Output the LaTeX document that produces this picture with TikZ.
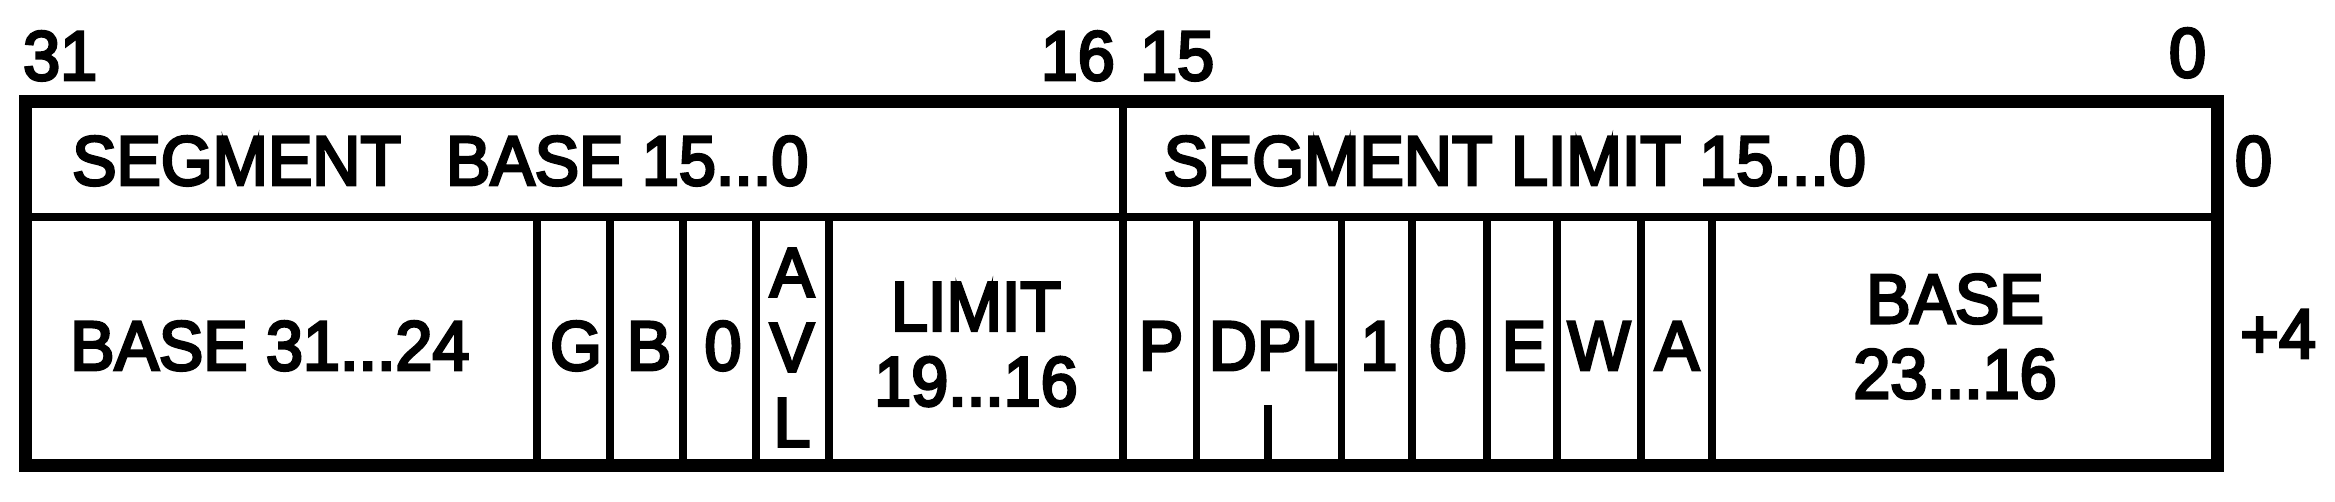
\documentclass[tikz,border=0pt]{standalone}
\usepackage{fontspec}
\newfontfamily\diafont{Liberation Sans}[FakeBold=4,FakeStretch=0.95]
\begin{document}
\begin{tikzpicture}[x=1pt,y=-1pt,
  lbl/.style={font=\diafont\fontsize{70}{75}\selectfont, inner sep=0pt, anchor=base},
  lbltwo/.style={font=\diafont\fontsize{70}{75}\selectfont, inner sep=0pt, align=center, anchor=center},
  outer/.style={line width=13pt, line join=miter},
  midline/.style={line width=8pt},
  divline/.style={line width=7.5pt}]
\useasboundingbox (0,0) rectangle (2335,502);
% frame and grid
\draw[outer] (25,101.5) rectangle (2217,465);
\draw[midline] (25,217.5) -- (2217,217.5);
\draw[divline] (1123,101.5) -- (1123,217.5);
\foreach \xx in {537,610,683,756,829,1123,1196.5,1341.5,1412,1487,1557,1641,1712}
  \draw[divline] (\xx,217.5) -- (\xx,465);
\draw[divline] (1268,405) -- (1268,465);
% bit numbers
\node[lbl, anchor=base west] (b31) at (23,80) {31};
\node[lbl, anchor=base east] (b16) at (1115,80) {16};
\node[lbl, anchor=base west] (b15) at (1140,80) {15};
\node[lbl] (b0) at (2187.5,77) {0};
% offsets
\node[lbl] (off0) at (2253.5,185) {0};
\node[lbl, anchor=base west] (off4) at (2240,358) {+4};
% first word
\node[lbl, anchor=base west] (segbase) at (72,185) {SEGMENT\hspace{0.38em} BASE 15...0};
\node[lbl, anchor=base west] (seglimit) at (1163.5,185) {SEGMENT LIMIT 15...0};
% second word
\node[lbl, anchor=base west] (base3124) at (70,370) {BASE 31...24};
\node[lbl] (g) at (576,370) {G};
\node[lbl] (b) at (649,370) {B};
\node[lbl] (zeroa) at (723,370) {0};
\node[lbltwo] (avl) at (792,347.5) {A\\V\\L};
\node[lbltwo] (limit) at (976,344.5) {LIMIT\\19...16};
\node[lbl] (p) at (1161,370) {P};
\node[lbl] (dpl) at (1273.5,370) {DPL};
\node[lbl] (one) at (1379,370) {1};
\node[lbl] (zerob) at (1448,370) {0};
\node[lbl] (e) at (1524,370) {E};
\node[lbl] (w) at (1599,370) {W};
\node[lbl] (a) at (1677,370) {A};
\node[lbltwo] (base2316) at (1955,336.5) {BASE\\23...16};
\end{tikzpicture}
\end{document}
